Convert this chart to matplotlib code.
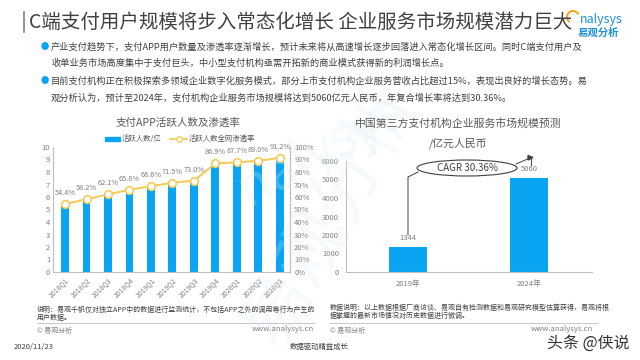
import matplotlib
matplotlib.use("Agg")
import matplotlib.pyplot as plt
from matplotlib.patches import Ellipse, Arc
from matplotlib.lines import Line2D

plt.rcParams['font.family'] = ['Noto Sans CJK SC', 'DejaVu Sans']

quarters = ["2018Q1", "2018Q2", "2018Q3", "2018Q4", "2019Q1", "2019Q2", "2019Q3",
            "2019Q4", "2020Q1", "2020Q2", "2020Q3"]
users = [5.3, 5.7, 6.1, 6.5, 6.8, 7.0, 7.2, 8.5, 8.7, 8.9, 9.1]
rate = [54.4, 58.2, 62.1, 65.8, 68.6, 71.5, 73.0, 86.9, 87.7, 89.0, 91.2]

years = ["2019年", "2024年"]
market = [1344, 5060]

W, H = 640, 360
BLUE = "#0AA5F2"
YEL = "#F2CC5C"
GRAY = "#808080"
DARK = "#404040"

fig = plt.figure(figsize=(6.4, 3.6), dpi=100)
fig.patch.set_facecolor("white")

def fx(x): return x / W
def fy(y): return 1 - y / H

# watermark
fig.text(fx(330), fy(215), "易观分析", fontsize=52, color="#D8ECF8", alpha=0.22,
         rotation=62, ha="center", va="center", zorder=0)
fig.text(fx(320), fy(150), "nalysys", fontsize=38, color="#D8ECF8", alpha=0.25,
         rotation=28, ha="center", va="center", zorder=0)

# header
fig.add_artist(Line2D([fx(24), fx(24)], [fy(12), fy(32)], color=GRAY, lw=1.2))
fig.text(fx(29), fy(22), "C端支付用户规模将步入常态化增长 企业服务市场规模潜力巨大",
         fontsize=14, color=DARK, ha="left", va="center")
fig.add_artist(Arc((fx(573), fy(17)), 12 / W, 12 / H, theta1=40, theta2=250,
                   color="#F5A623", lw=1.5, transform=fig.transFigure))
fig.text(fx(623), fy(19), "nalysys", fontsize=9, color="#1E8FD8", ha="right", va="center",
         style="italic")
fig.text(fx(619), fy(33), "易观分析", fontsize=7.5, color="#1E8FD8", ha="right", va="center",
         fontweight="bold")

bullets = [
    (47, "产业支付趋势下，支付APP用户数量及渗透率逐渐增长，预计未来将从高速增长逐步回落进入常态化增长区间。同时C端支付用户及", True),
    (63, "收单业务市场高度集中于支付巨头，中小型支付机构亟需开拓新的商业模式获得新的利润增长点。", False),
    (81, "目前支付机构正在积极探索多领域企业数字化服务模式，部分上市支付机构企业服务营收占比超过15%，表现出良好的增长态势。易", True),
    (98, "观分析认为，预计至2024年，支付机构企业服务市场规模将达到5060亿元人民币，年复合增长率将达到30.36%。", False),
]
for y, t, dot in bullets:
    if dot:
        fig.text(fx(45), fy(y), "●", fontsize=6, color=BLUE, ha="center", va="center")
    fig.text(fx(51), fy(y), t, fontsize=6.65, color=DARK, ha="left", va="center")

# left chart
ax = fig.add_axes([fx(53), fy(272), (290 - 53) / W, (272 - 147) / H])
x = list(range(len(quarters)))
ax.bar(x, users, width=0.37, color=BLUE, zorder=2)
ax.set_ylim(0, 10)
ax.set_xlim(-0.56, 10.47)
ax.set_yticks(range(0, 11))
ax.set_xticks(x)
ax.set_xticklabels(quarters, rotation=45, ha="right", rotation_mode="anchor")
ax.tick_params(axis="both", length=0, labelsize=5.5, colors=GRAY, pad=2)
ax.tick_params(axis="x", pad=3, labelsize=5)
ax.spines["top"].set_visible(False)
for s in ["left", "bottom", "right"]:
    ax.spines[s].set_color("#BFBFBF")
    ax.spines[s].set_linewidth(0.8)
ax.patch.set_alpha(0)

ax2 = ax.twinx()
ax2.plot(x, rate, color=YEL, lw=1.5, marker="o", ms=5.5, mfc="white", mec=YEL, mew=1.2, zorder=3)
ax2.set_ylim(0, 100)
ax2.set_yticks(range(0, 101, 10))
ax2.set_yticklabels([f"{v}%" for v in range(0, 101, 10)])
ax2.tick_params(axis="y", length=0, labelsize=5.5, colors=GRAY, pad=3)
for s in ["top", "left", "bottom"]:
    ax2.spines[s].set_visible(False)
ax2.spines["right"].set_color("#BFBFBF")
ax2.spines["right"].set_linewidth(0.8)
for i, r in enumerate(rate):
    ax2.annotate(f"{r:.1f}%", (i, r), xytext=(0, 5), textcoords="offset points",
                 ha="center", va="bottom", fontsize=5.3, color=GRAY)

fig.text(fx(178), fy(123), "支付APP活跃人数及渗透率", fontsize=7.6, color="#595959",
         ha="center", va="center")
# legend
fig.add_artist(plt.Rectangle((fx(105), fy(141.5)), 15 / W, 5 / H, color=BLUE, transform=fig.transFigure))
fig.text(fx(122), fy(139), "活跃人数/亿", fontsize=5.3, color="#595959", ha="left", va="center")
fig.add_artist(Line2D([fx(170), fx(187)], [fy(139), fy(139)], color=YEL, lw=1.3))
fig.add_artist(Line2D([fx(178.5)], [fy(139)], color=YEL, marker="o", ms=4, mfc="white", mec=YEL))
fig.text(fx(189), fy(139), "活跃人数全网渗透率", fontsize=5.3, color="#595959", ha="left", va="center")

# right chart
bx = fig.add_axes([fx(346), fy(272), (592 - 346) / W, (272 - 161) / H])
xr = [0, 1]
bx.bar(xr, market, width=0.31, color=BLUE, zorder=2)
bx.set_ylim(0, 6000)
bx.set_xlim(-0.51, 1.52)
bx.set_yticks(range(0, 6001, 1000))
bx.set_xticks(xr)
bx.set_xticklabels(years)
bx.tick_params(axis="both", length=0, labelsize=5.5, colors=GRAY)
bx.tick_params(axis="x", pad=6)
bx.tick_params(axis="y", pad=5)
for s in ["top", "right"]:
    bx.spines[s].set_visible(False)
for s in ["left", "bottom"]:
    bx.spines[s].set_color("#BFBFBF")
    bx.spines[s].set_linewidth(0.8)
bx.patch.set_alpha(0)
for i, v in enumerate(market):
    bx.annotate(f"{v}", (i, v), xytext=(0, 4), textcoords="offset points",
                ha="center", va="bottom", fontsize=5.5, color=GRAY)

fig.text(fx(458), fy(123), "中国第三方支付机构企业服务市场规模预测", fontsize=7.8,
         color="#595959", ha="center", va="center")
fig.text(fx(458), fy(143), "/亿元人民币", fontsize=7.8, color="#595959", ha="center", va="center")

# CAGR annotation
fig.add_artist(Line2D([fx(408), fx(408), fx(418)], [fy(235), fy(177), fy(172)],
                      color="#404040", lw=0.7))
fig.add_artist(Ellipse((fx(467), fy(168)), 100 / W, 16 / H, transform=fig.transFigure,
                       fill=False, ec="#404040", lw=0.8))
fig.text(fx(467), fy(168), "CAGR 30.36%", fontsize=7, color="#404040", ha="center", va="center")
fig.add_artist(Line2D([fx(516), fx(530)], [fy(164), fy(158)], color="#404040", lw=0.7))
fig.add_artist(Line2D([fx(531), fx(531)], [fy(158), fy(165)], color="#404040", lw=0.7))
fig.add_artist(plt.Polygon([(fx(528), fy(155.5)), (fx(533), fy(157.5)), (fx(528), fy(160))],
                           closed=True, color="#404040", transform=fig.transFigure))

# footnotes
fig.text(fx(37), fy(310), "说明：易观千帆仅对独立APP中的数据进行监测统计，不包括APP之外的调用等行为产生的",
         fontsize=5, color=DARK, ha="left", va="center")
fig.text(fx(37), fy(318), "用户数据。", fontsize=5, color=DARK, ha="left", va="center")
fig.add_artist(Line2D([fx(37), fx(315)], [fy(323), fy(323)], color="#BFBFBF", lw=0.6))
fig.text(fx(37), fy(331), "© 易观分析", fontsize=5, color=GRAY, ha="left", va="center")
fig.text(fx(314), fy(329), "www.analysys.cn", fontsize=5.5, color=GRAY, ha="right", va="center")

fig.text(fx(330), fy(308), "数据说明：以上数据根据厂商访谈、易观自有检测数据和易观研究模型估算获得，易观将根",
         fontsize=5, color=DARK, ha="left", va="center")
fig.text(fx(330), fy(316), "据掌握的最新市场情况对历史数据进行微调。", fontsize=5, color=DARK, ha="left", va="center")
fig.add_artist(Line2D([fx(330), fx(598)], [fy(323), fy(323)], color="#BFBFBF", lw=0.6))
fig.text(fx(330), fy(331), "© 易观分析", fontsize=5, color=GRAY, ha="left", va="center")
fig.text(fx(593), fy(329), "www.analysys.cn", fontsize=5.5, color=GRAY, ha="right", va="center")

fig.text(fx(14), fy(347), "2020/11/23", fontsize=5.5, color=DARK, ha="left", va="center")
fig.text(fx(290), fy(347), "数据驱动精益成长", fontsize=5.3, color=DARK, ha="left", va="center")
fig.text(fx(630), fy(343), "头条 @侠说", fontsize=11.5, color="#333333", ha="right", va="center")

fig.savefig("out.png", dpi=100, facecolor="white")
